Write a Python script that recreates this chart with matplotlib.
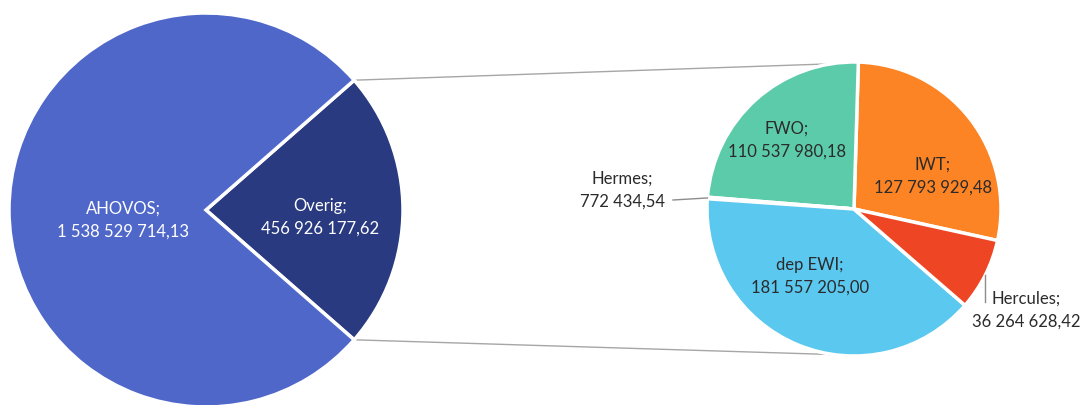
import numpy as np
import matplotlib.pyplot as plt

plt.rcParams["font.family"] = ["Lato", "DejaVu Sans"]

# main pie
main_labels = ["Overig", "AHOVOS"]
main_values = [456926177.62, 1538529714.13]

# breakdown of "Overig"
sub_labels = ["IWT", "FWO", "Hermes", "dep EWI", "Hercules"]
sub_values = [127793929.48, 110537980.18, 772434.54, 181557205.00, 36264628.42]

main_colors = ["#293a80", "#4f67c9"]
sub_colors = ["#fd8424", "#5ccba9", "#9b9b9b", "#5bc8f0", "#ee4524"]


def fmt(v):
    # 1 538 529 714,13 style
    s = f"{v:,.2f}"
    return s.replace(",", " ").replace(".", ",")


def polar(c, r, deg):
    a = np.radians(deg)
    return c[0] + r * np.cos(a), c[1] + r * np.sin(a)


W, H = 1089, 405
fig = plt.figure(figsize=(W / 100, H / 100), dpi=100)
ax = fig.add_axes([0, 0, 1, 1])

c1, r1 = (206, 195), 197
c2, r2 = (854, 196), 147

# left pie, "Overig" centred on 0 degrees
ov_angle = main_values[0] / sum(main_values) * 360
w1, _ = ax.pie(main_values, colors=main_colors, center=c1, radius=r1,
               startangle=-ov_angle / 2, counterclock=True,
               wedgeprops=dict(edgecolor="white", linewidth=2.5))

# right pie
sub_frac = np.array(sub_values) / sum(sub_values) * 360
start2 = 88.3 - sub_frac[0]
w2, _ = ax.pie(sub_values, colors=sub_colors, center=c2, radius=r2,
               startangle=start2, counterclock=True,
               wedgeprops=dict(edgecolor="white", linewidth=2.5))

ax.set_xlim(0, W)
ax.set_ylim(0, H)
ax.set_aspect("equal")
ax.axis("off")

# connector lines
for a1, a2 in [(ov_angle / 2, 99), (-ov_angle / 2, 262)]:
    p = polar(c1, r1, a1)
    q = polar(c2, r2, a2)
    ax.plot([p[0], q[0]], [p[1], q[1]], color="#a6a6a6", lw=1, zorder=0)

def y(pix):
    return H - pix

txt = dict(ha="center", va="center", fontsize=12, linespacing=1.5)
ax.text(123, y(220), f"{main_labels[1]};\n{fmt(main_values[1])}", color="white", **txt)
ax.text(320, y(217), f"{main_labels[0]};\n{fmt(main_values[0])}", color="white", **txt)

dark = "#2b2b2b"
ax.text(787, y(140), f"{sub_labels[1]};\n{fmt(sub_values[1])}", color=dark, **txt)
ax.text(933, y(176), f"{sub_labels[0]};\n{fmt(sub_values[0])}", color=dark, **txt)
ax.text(810, y(276), f"{sub_labels[3]};\n{fmt(sub_values[3])}", color=dark, **txt)
ax.text(622, y(190), f"{sub_labels[2]};\n{fmt(sub_values[2])}", color=dark, **txt)
ax.text(1026, y(310), f"{sub_labels[4]};\n{fmt(sub_values[4])}", color=dark, **txt)

# leader lines
herm = w2[2]
p = polar(c2, r2, (herm.theta1 + herm.theta2) / 2)
ax.plot([673, p[0]], [y(200), p[1]], color="#8c8c8c", lw=1)
herc = w2[4]
p = polar(c2, r2, (herc.theta1 + herc.theta2) / 2)
ax.plot([p[0], p[0]], [p[1], y(302)], color="#8c8c8c", lw=1)

fig.savefig("out.png", dpi=100)
